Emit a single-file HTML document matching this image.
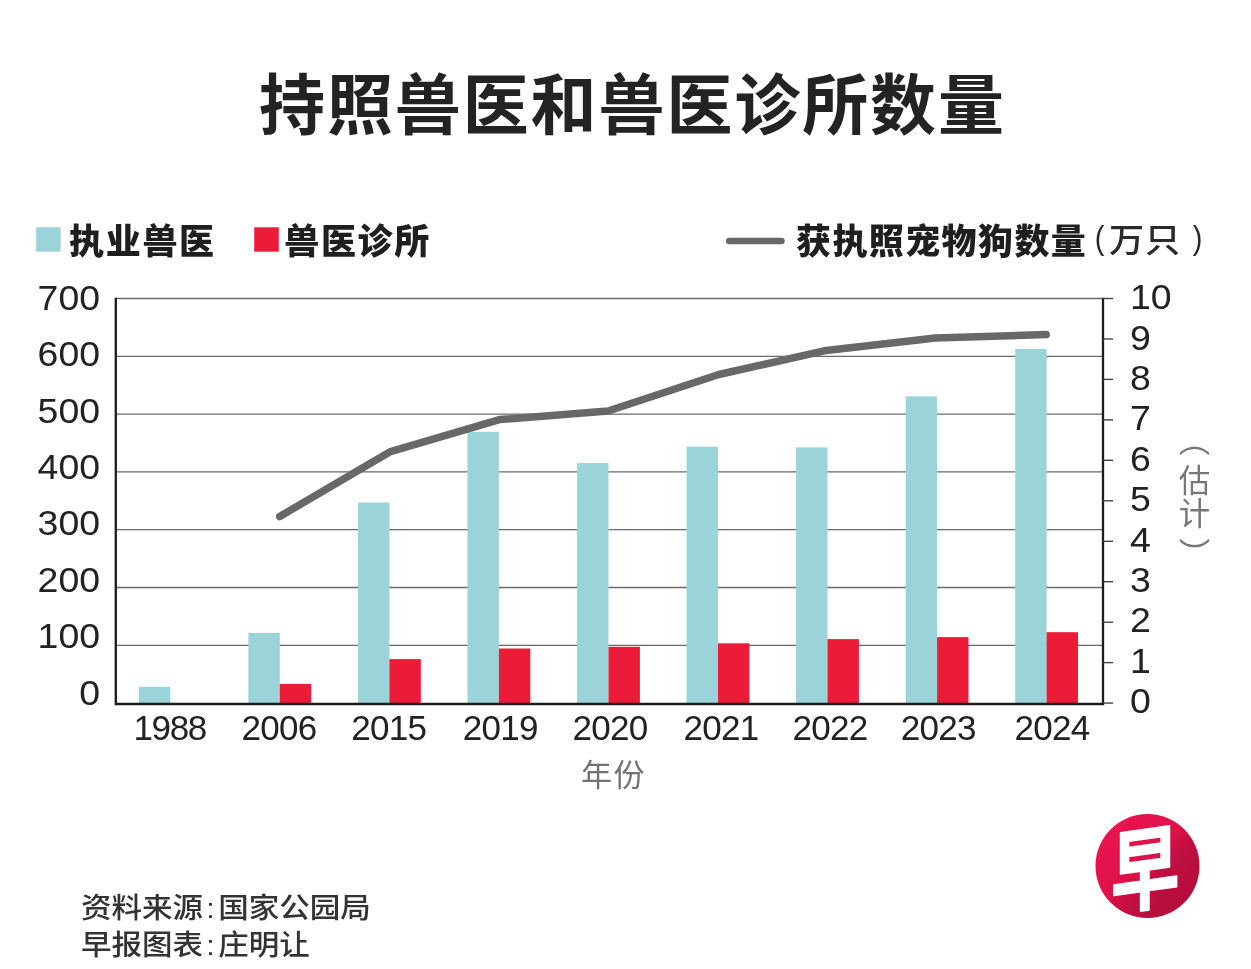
<!DOCTYPE html>
<html lang="zh-Hans">
<head>
<meta charset="utf-8">
<title>持照兽医和兽医诊所数量</title>
<style>
html,body{margin:0;padding:0;background:#fff;}
body{width:1251px;height:969px;position:relative;overflow:hidden;font-family:"Liberation Sans","Noto Sans CJK SC",sans-serif;color:#222;}
.g{position:absolute;left:0;top:0;}
.t{position:absolute;white-space:nowrap;line-height:1;margin:0;}
.title{left:259px;top:73px;font-size:66px;letter-spacing:1.9px;font-weight:700;color:#232323;}
.lg{font-size:35px;font-weight:900;top:224px;letter-spacing:1.7px;color:#1f1f1f;}
.unit{font-size:34px;font-weight:500;top:223px;color:#2a2a2a;}
.pr{top:219.5px;transform:scaleX(0.85);transform-origin:50% 50%;}
.cj{font-size:33.5px;top:224px;transform:scaleX(1.05);transform-origin:0 50%;}
.yl{font-size:34.8px;width:80px;left:19.5px;text-align:right;color:#222;transform:scaleX(1.075);transform-origin:100% 50%;}
.yr{font-size:35px;left:1129.5px;color:#222;transform:scaleX(1.07);transform-origin:0 50%;}
.xl{font-size:35px;width:110px;text-align:center;top:709.5px;letter-spacing:-0.7px;color:#222;}
.xt{font-size:31px;left:581px;top:759.9px;color:#727272;letter-spacing:1.5px;}
.est{font-size:31.5px;color:#777;writing-mode:vertical-rl;left:1175px;letter-spacing:2.2px;}
.src{font-size:28.4px;font-weight:500;left:81px;color:#333;transform:scaleX(1.075);transform-origin:0 50%;}
.src i{font-style:normal;display:inline-block;width:14px;text-align:center;}
</style>
</head>
<body>
<svg class="g" width="1251" height="969" viewBox="0 0 1251 969">
<line x1="116" y1="298.5" x2="1102" y2="298.5" stroke="#6a6a6a" stroke-width="1.3"/>
<line x1="116" y1="356.3" x2="1102" y2="356.3" stroke="#6a6a6a" stroke-width="1.3"/>
<line x1="116" y1="414.1" x2="1102" y2="414.1" stroke="#6a6a6a" stroke-width="1.3"/>
<line x1="116" y1="471.9" x2="1102" y2="471.9" stroke="#6a6a6a" stroke-width="1.3"/>
<line x1="116" y1="529.7" x2="1102" y2="529.7" stroke="#6a6a6a" stroke-width="1.3"/>
<line x1="116" y1="587.5" x2="1102" y2="587.5" stroke="#6a6a6a" stroke-width="1.3"/>
<line x1="116" y1="645.3" x2="1102" y2="645.3" stroke="#6a6a6a" stroke-width="1.3"/>
<rect x="138.9" y="686.8" width="31.4" height="16.4" fill="#9ad4d8"/>
<rect x="248.4" y="633.0" width="31.4" height="70.2" fill="#9ad4d8"/>
<rect x="279.8" y="683.9" width="31.4" height="19.3" fill="#ec1c38"/>
<rect x="358.0" y="502.5" width="31.4" height="200.7" fill="#9ad4d8"/>
<rect x="389.4" y="659.1" width="31.4" height="44.1" fill="#ec1c38"/>
<rect x="467.5" y="431.8" width="31.4" height="271.4" fill="#9ad4d8"/>
<rect x="498.9" y="648.5" width="31.4" height="54.7" fill="#ec1c38"/>
<rect x="577.1" y="463.1" width="31.4" height="240.1" fill="#9ad4d8"/>
<rect x="608.5" y="646.8" width="31.4" height="56.4" fill="#ec1c38"/>
<rect x="686.6" y="446.7" width="31.4" height="256.5" fill="#9ad4d8"/>
<rect x="718.0" y="643.3" width="31.4" height="59.9" fill="#ec1c38"/>
<rect x="796.1" y="447.4" width="31.4" height="255.8" fill="#9ad4d8"/>
<rect x="827.5" y="639.1" width="31.4" height="64.1" fill="#ec1c38"/>
<rect x="905.7" y="396.4" width="31.4" height="306.8" fill="#9ad4d8"/>
<rect x="937.1" y="637.1" width="31.4" height="66.1" fill="#ec1c38"/>
<rect x="1015.2" y="349.0" width="31.4" height="354.2" fill="#9ad4d8"/>
<rect x="1046.6" y="632.2" width="31.4" height="71.0" fill="#ec1c38"/>
<path d="M115.8 297.8V704H1103V297.8" fill="none" stroke="#1c1c1c" stroke-width="2.3"/>
<line x1="1103" y1="298.5" x2="1113" y2="298.5" stroke="#444" stroke-width="1.4"/>
<line x1="1103" y1="339.0" x2="1113" y2="339.0" stroke="#444" stroke-width="1.4"/>
<line x1="1103" y1="379.4" x2="1113" y2="379.4" stroke="#444" stroke-width="1.4"/>
<line x1="1103" y1="419.9" x2="1113" y2="419.9" stroke="#444" stroke-width="1.4"/>
<line x1="1103" y1="460.3" x2="1113" y2="460.3" stroke="#444" stroke-width="1.4"/>
<line x1="1103" y1="500.8" x2="1113" y2="500.8" stroke="#444" stroke-width="1.4"/>
<line x1="1103" y1="541.3" x2="1113" y2="541.3" stroke="#444" stroke-width="1.4"/>
<line x1="1103" y1="581.7" x2="1113" y2="581.7" stroke="#444" stroke-width="1.4"/>
<line x1="1103" y1="622.2" x2="1113" y2="622.2" stroke="#444" stroke-width="1.4"/>
<line x1="1103" y1="662.6" x2="1113" y2="662.6" stroke="#444" stroke-width="1.4"/>
<line x1="1103" y1="703.1" x2="1113" y2="703.1" stroke="#444" stroke-width="1.4"/>
<path d="M279.7 516.5 L389.7 451.9 L499.4 419.6 L608.1 411.0 L718.8 374.5 L826.3 350.4 L935.4 337.9 L1046.2 334.6" fill="none" stroke="#686868" stroke-width="7.5" stroke-linecap="round" stroke-linejoin="round"/>
<rect x="36.2" y="227.3" width="24.4" height="24.4" fill="#9ad4d8"/>
<rect x="254.2" y="227.3" width="24.6" height="24.4" fill="#ec1c38"/>
<line x1="729.2" y1="241" x2="781.5" y2="241" stroke="#686868" stroke-width="6.5" stroke-linecap="round"/>
<defs><linearGradient id="lg" x1="0.1" y1="0.1" x2="0.9" y2="0.9"><stop offset="0" stop-color="#ea1450"/><stop offset="0.45" stop-color="#df1149"/><stop offset="0.62" stop-color="#c00f40"/><stop offset="1" stop-color="#b00e3a"/></linearGradient></defs>
<circle cx="1147.5" cy="866" r="52" fill="url(#lg)"/>
<text transform="translate(1145 871) skewY(-8) scale(0.88 1.16)" x="0" y="27" text-anchor="middle" font-family="'Liberation Sans','Noto Sans CJK SC',sans-serif" font-weight="700" font-size="78" fill="#fff" stroke="#fff" stroke-width="1.5" stroke-linejoin="round">早</text>
</svg>
<h1 class="t title">持照兽医和兽医诊所数量</h1>
<div class="t lg" style="left:69px">执业兽医</div>
<div class="t lg" style="left:284.2px">兽医诊所</div>
<div class="t lg" style="left:796px;letter-spacing:1.4px">获执照宠物狗数量</div>
<div class="unitw"><span class="t unit pr" style="left:1094px">(</span><span class="t unit cj" style="left:1109px">万</span><span class="t unit cj" style="left:1145px">只</span><span class="t unit pr" style="left:1191.5px">)</span></div>
<div class="t yl" style="top:280.6px">700</div>
<div class="t yl" style="top:337.0px">600</div>
<div class="t yl" style="top:393.5px">500</div>
<div class="t yl" style="top:449.9px">400</div>
<div class="t yl" style="top:506.3px">300</div>
<div class="t yl" style="top:562.7px">200</div>
<div class="t yl" style="top:619.2px">100</div>
<div class="t yl" style="top:675.6px">0</div>
<div class="t yr" style="top:279.3px">10</div>
<div class="t yr" style="top:319.7px">9</div>
<div class="t yr" style="top:360.0px">8</div>
<div class="t yr" style="top:400.4px">7</div>
<div class="t yr" style="top:440.8px">6</div>
<div class="t yr" style="top:481.1px">5</div>
<div class="t yr" style="top:521.5px">4</div>
<div class="t yr" style="top:561.9px">3</div>
<div class="t yr" style="top:602.3px">2</div>
<div class="t yr" style="top:642.6px">1</div>
<div class="t yr" style="top:683.0px">0</div>
<div class="t xl" style="left:114.7px;letter-spacing:-1.4px">1988</div>
<div class="t xl" style="left:224.1px">2006</div>
<div class="t xl" style="left:333.8px">2015</div>
<div class="t xl" style="left:445.2px">2019</div>
<div class="t xl" style="left:555.1px">2020</div>
<div class="t xl" style="left:666.1px">2021</div>
<div class="t xl" style="left:775.1px">2022</div>
<div class="t xl" style="left:883.3px">2023</div>
<div class="t xl" style="left:997.0px">2024</div>
<div class="t xt">年份</div>
<div class="estw"><span class="t est" style="top:423.5px">（</span><span class="t est" style="top:464px">估计</span><span class="t est" style="top:537.7px">）</span></div>
<div class="t src" style="top:893.8px">资料来源<i>:</i>国家公园局</div>
<div class="t src" style="top:930.5px">早报图表<i>:</i>庄明让</div>
</body>
</html>
